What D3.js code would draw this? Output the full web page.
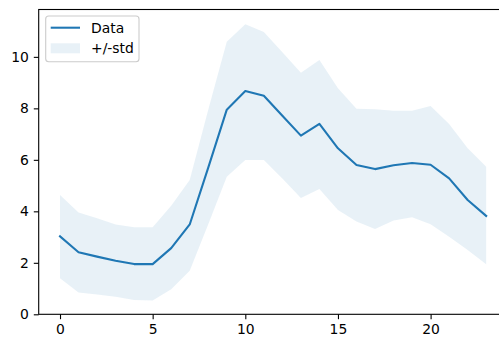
<!DOCTYPE html>
<html>
<head>
<meta charset="utf-8">
<script src="https://cdn.jsdelivr.net/npm/d3@7"></script>
<style>
  html, body { margin: 0; padding: 0; background: #fff; }
  svg { display: block; font-family: "DejaVu Sans", sans-serif; }
</style>
</head>
<body>
<svg id="chart" width="499" height="338"></svg>
<script>
// values (hour index 0..23)
var hours = d3.range(24);
var meanVals  = [3.03, 2.41, 2.24, 2.08, 1.95, 1.95, 2.57, 3.49, 5.70, 7.95, 8.67, 8.49, 7.71, 6.94, 7.40, 6.45, 5.80, 5.64, 5.79, 5.88, 5.81, 5.28, 4.44, 3.82];
var upperVals = [4.63, 3.95, 3.73, 3.49, 3.38, 3.38, 4.22, 5.22, 7.95, 10.59, 11.27, 10.97, 10.18, 9.38, 9.88, 8.78, 7.98, 7.97, 7.91, 7.91, 8.09, 7.39, 6.45, 5.73];
var lowerVals = [1.40, 0.85, 0.77, 0.68, 0.56, 0.54, 0.97, 1.69, 3.50, 5.34, 5.99, 5.99, 5.28, 4.52, 4.87, 4.05, 3.60, 3.31, 3.64, 3.77, 3.50, 3.01, 2.50, 1.94];
var xTicks = [0, 5, 10, 15, 20];
var yTicks = [0, 2, 4, 6, 8, 10];
var legendLabels = ["Data", "+/-std"];

var BLUE = "#1f77b4";
// axes box (it runs past the right edge of the picture)
var AX_L = 38.7, AX_T = 9.5, AX_R = 507.5, AX_B = 314.3;

var svg = d3.select("#chart");
var x = d3.scaleLinear().domain([-1.15, 24.15]).range([AX_L, AX_R]);
var y = d3.scaleLinear().domain([0, 11.84]).range([AX_B, AX_T]);

// band
svg.append("path")
  .datum(hours)
  .attr("d", d3.area().x(function(d){ return x(d); })
    .y0(function(d){ return y(lowerVals[d]); })
    .y1(function(d){ return y(upperVals[d]); }))
  .attr("fill", BLUE).attr("fill-opacity", 0.1);

// line
svg.append("path")
  .datum(hours)
  .attr("d", d3.line().x(function(d){ return x(d); }).y(function(d){ return y(meanVals[d]); }))
  .attr("fill", "none").attr("stroke", BLUE).attr("stroke-width", 2.08)
  .attr("stroke-linejoin", "round").attr("stroke-linecap", "square");

// axes
var xAxis = svg.append("g").attr("transform", "translate(0," + AX_B + ")")
  .call(d3.axisBottom(x).tickValues(xTicks).tickSize(4.9).tickPadding(4.9).tickFormat(d3.format("d")));
var yAxis = svg.append("g").attr("transform", "translate(" + AX_L + ",0)")
  .call(d3.axisLeft(y).tickValues(yTicks).tickSize(4.9).tickPadding(4.9).tickFormat(d3.format("d")));
[xAxis, yAxis].forEach(function(g){
  g.select(".domain").remove();
  g.selectAll(".tick line").attr("stroke", "#000").attr("stroke-width", 1.1);
  g.selectAll(".tick text").attr("fill", "#000").style("font-size", "13.9px")
    .style("font-family", "DejaVu Sans, sans-serif");
});

// spines
svg.append("rect")
  .attr("x", AX_L).attr("y", AX_T).attr("width", AX_R - AX_L).attr("height", AX_B - AX_T)
  .attr("fill", "none").attr("stroke", "#000").attr("stroke-width", 1.1);

// legend
var lg = svg.append("g");
lg.append("rect").attr("x", 45.7).attr("y", 16).attr("width", 93.3).attr("height", 45.7)
  .attr("rx", 3).attr("fill", "#fff").attr("fill-opacity", 0.8)
  .attr("stroke", "#ccc").attr("stroke-width", 1.1);
lg.append("line").attr("x1", 50.7).attr("x2", 80).attr("y1", 27.7).attr("y2", 27.7)
  .attr("stroke", BLUE).attr("stroke-width", 2.08);
lg.append("rect").attr("x", 50.7).attr("y", 43.3).attr("width", 29.3).attr("height", 10)
  .attr("fill", BLUE).attr("fill-opacity", 0.1);
lg.selectAll("text.lbl").data(legendLabels).enter().append("text")
  .attr("class", "lbl")
  .attr("x", 91).attr("y", function(d, i){ return 32.7 + i * 20.6; })
  .style("font-size", "13.9px").attr("fill", "#000")
  .text(function(d){ return d; });
</script>
</body>
</html>
